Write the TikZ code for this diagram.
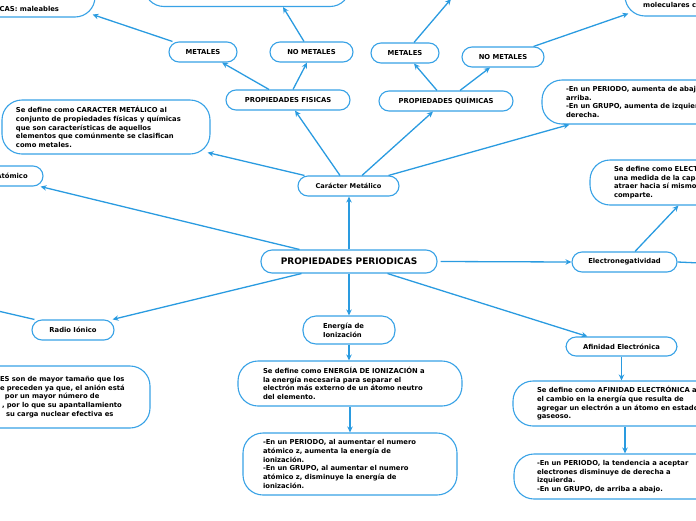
\documentclass[tikz,border=0pt]{standalone}
\usepackage{fontspec}
\setmainfont{DejaVu Sans}
\usetikzlibrary{arrows.meta}
\definecolor{bl}{HTML}{2A9BE0}
\definecolor{bb}{HTML}{38A2E6}
\begin{document}
\begin{tikzpicture}[x=1pt,y=-1pt,
  pill/.style={draw=bb, fill=white, line width=1.1pt, rounded corners=10pt,
    font=\fontsize{6.8}{8.7}\selectfont\bfseries, inner sep=0pt, align=center},
  card/.style={draw=bb, fill=white, line width=1.1pt, rounded corners=20pt,
    font=\fontsize{6.8}{8.7}\selectfont\bfseries, inner ysep=0pt, align=left},
  txt/.style={inner sep=0pt, font=\fontsize{6.8}{8.7}\selectfont\bfseries},
  link/.style={draw=bl, line width=1.3pt, -{Stealth[length=6pt,width=5.5pt]}},
  plainlink/.style={draw=bl, line width=1.3pt}]
\useasboundingbox (0,0) rectangle (696,520);
\clip (0,0) rectangle (696,520);

% cut boxes at the edges
\node[card, minimum width=195pt, minimum height=47pt] (tlbox) at (-2.5,-6.5) {};
\node[txt, anchor=base west] (tltext) at (-0.5,11) {CAS: maleables};
\node[card, minimum width=206pt, minimum height=46.5pt] (tcbox) at (247,-16.75) {};
\node[card, minimum width=275pt, minimum height=56pt] (trbox) at (762.5,-12) {};
\node[txt, anchor=base west] (trtext) at (643,7.5) {moleculares c};
\coordinate (topq) at (451,-1);
\coordinate (enr) at (700,263);
\coordinate (ril) at (-2,311);

% pills
\node[pill, minimum width=68pt, minimum height=20pt] (mf) at (203,52) {METALES};
\node[pill, minimum width=83pt, minimum height=20pt] (nmf) at (311.5,52) {NO METALES};
\node[pill, minimum width=124pt, minimum height=20pt] (pf) at (288,100) {PROPIEDADES FISICAS};
\node[pill, minimum width=68pt, minimum height=20pt] (mq) at (405,53) {METALES};
\node[pill, minimum width=82pt, minimum height=20pt] (nmq) at (503,57) {NO METALES};
\node[pill, minimum width=134pt, minimum height=20pt] (pq) at (446,101) {PROPIEDADES QUÍMICAS};
\node[pill, minimum width=101pt, minimum height=20pt, font=\fontsize{6.6}{8}\selectfont\bfseries] (cm) at (348.5,186) {Carácter Metálico};
\node[pill, minimum width=86pt, minimum height=20pt] (ra) at (0,176) {Radio Atómico};
\node[pill, minimum width=176pt, minimum height=23pt, rounded corners=11pt, font=\fontsize{9}{11}\selectfont\bfseries] (pp) at (349,261.5) {PROPIEDADES PERIODICAS};
\node[pill, minimum width=105pt, minimum height=20pt] (en) at (624.5,262) {Electronegatividad};
\node[pill, minimum width=82pt, minimum height=20pt] (ri) at (73,330) {Radio Iónico};
\node[pill, minimum height=28pt, rounded corners=13pt, inner xsep=20pt, text width=52pt, align=left] (ei) at (349,330) {Energía de\\Ionización};
\node[pill, minimum width=111pt, minimum height=19pt] (ae) at (621.5,346.5) {Afinidad Electrónica};

% cards
\node[card, minimum height=54pt, inner xsep=14pt, text width=180pt] (cmd) at (106,127)
 {Se define como CARACTER METÁLICO al\\conjunto de propiedades físicas y químicas\\que son características de aquellos\\elementos que comúnmente se clasifican\\como metales.};
\node[card, minimum height=44pt, inner xsep=24pt, text width=200pt] (rp) at (666,102)
 {-En un PERIODO, aumenta de abajo hacia\\arriba.\\-En un GRUPO, aumenta de izquierda a\\derecha.};
\node[card, minimum height=45pt, inner xsep=24pt, text width=220pt] (end) at (724,182.5)
 {Se define como ELECTRONEGATIVIDAD a\\una medida de la capacidad de un átomo para\\atraer hacia sí mismo los electrones que\\comparte.};
\node[card, minimum height=45pt, inner xsep=25pt, text width=174pt] (eid) at (350,383.5)
 {Se define como ENERGÍA DE IONIZACIÓN a\\la energía necesaria para separar el\\electrón más externo de un átomo neutro\\del elemento.};
\node[card, minimum height=62pt, inner xsep=20pt, text width=174pt] (eip) at (350,464)
 {-En un PERIODO, al aumentar el numero\\atómico z, aumenta la energía de\\ionización.\\-En un GRUPO, al aumentar el numero\\atómico z, disminuye la energía de\\ionización.};
\node[card, minimum height=45pt, inner xsep=24pt, text width=220pt] (aed) at (647,403.5)
 {Se define como AFINIDAD ELECTRÓNICA a\\el cambio en la energía que resulta de\\agregar un electrón a un átomo en estado\\gaseoso.};
\node[card, minimum height=45pt, inner xsep=23pt, text width=220pt] (aep) at (647,476.5)
 {-En un PERIODO, la tendencia a aceptar\\electrones disminuye de derecha a\\izquierda.\\-En un GRUPO, de arriba a abajo.};
\node[card, minimum height=62pt, inner xsep=20pt, text width=130pt] (rid) at (65,397)
 {ES son de mayor tamaño que los\\e preceden ya que, el anión está\\\hspace*{5pt}por un mayor número de\\\hspace*{2pt}, por lo que su apantallamiento\\\hspace*{6pt}su carga nuclear efectiva es};

% connectors
\draw[link] ([xshift=4pt]mf.north west) -- ([xshift=-3pt,yshift=3pt]tlbox.south east);
\draw[link] ([xshift=-7.5pt]nmf.north) -- ([xshift=36pt]tcbox.south);
\draw[link] ([xshift=-19pt]pf.north) -- ([xshift=19pt]mf.south);
\draw[link] ([xshift=5pt]pf.north) -- ([xshift=-4.5pt]nmf.south);
\draw[link] ([xshift=-8.5pt]cm.north) -- ([xshift=7pt]pf.south);
\draw[link] ([xshift=7pt]cm.north west) -- ([xshift=-3pt,yshift=2pt]cmd.south east);
\draw[link] ([xshift=13.5pt]cm.north) -- ([xshift=-13pt]pq.south);
\draw[link] ([xshift=-11pt]cm.north east) -- ([xshift=28pt]rp.south west);
\draw[link] ([xshift=-9pt]pq.north) -- ([xshift=9pt]mq.south);
\draw[link] ([xshift=14pt]pq.north) -- ([xshift=-13pt]nmq.south);
\draw[link] ([xshift=9pt]mq.north) -- (topq);
\draw[link] ([xshift=-11pt]nmq.north east) -- ([xshift=4pt,yshift=3pt]trbox.south west);
\draw[link] ([xshift=39pt]pp.north west) -- ([xshift=-3pt]ra.south east);
\draw[link] (pp.north) -- (pp.north |- cm.south);
\draw[link] ([xshift=3pt]pp.east) -- (en.west);
\draw[link] ([xshift=10.5pt]en.north) -- ([xshift=89pt]end.south west);
\draw[plainlink] (en.east) -- (enr);
\draw[link] ([xshift=41pt]pp.south west) -- ([xshift=-2pt]ri.north east);
\draw[plainlink] ([xshift=3pt]ri.north west) -- (ril);
\draw[link] (pp.south) -- (pp.south |- ei.north);
\draw[link] (ei.south) -- (ei.south |- eid.north);
\draw[link] (eid.south) -- (eid.south |- eip.north);
\draw[link] ([xshift=-50pt]pp.south east) -- ([xshift=22pt]ae.north west);
\draw[link] (ae.south) -- (ae.south |- aed.north);
\draw[link] ([xshift=-22pt]aed.south) -- ([xshift=-22pt]aep.north);
\end{tikzpicture}
\end{document}
